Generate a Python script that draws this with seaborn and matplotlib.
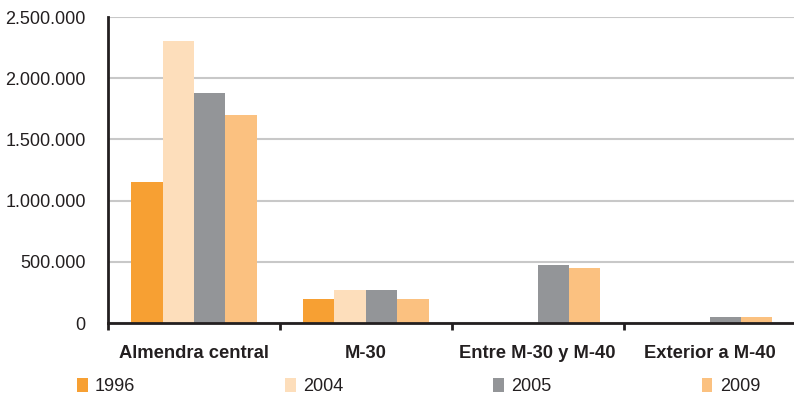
import numpy as np
import pandas as pd
import matplotlib
matplotlib.use("Agg")
import matplotlib.pyplot as plt
from matplotlib.patches import Patch
from matplotlib.ticker import FuncFormatter, FixedLocator
import seaborn as sns

# Data: vehicles by ring zone and year
zones = ["Almendra central", "M-30", "Entre M-30 y M-40", "Exterior a M-40"]
years = ["1996", "2004", "2005", "2009"]
v1996 = [1150000, 195000, np.nan, np.nan]
v2004 = [2305000, 270000, np.nan, np.nan]
v2005 = [1880000, 270000, 475000, 50000]
v2009 = [1700000, 195000, 450000, 50000]
colors = ["#F7A033", "#FDDEBB", "#939598", "#FBC180"]

rows = []
for year, vals in zip(years, [v1996, v2004, v2005, v2009]):
    for zone, v in zip(zones, vals):
        rows.append({"zona": zone, "año": year, "valor": v})
df = pd.DataFrame(rows)

sns.set_style("white")
plt.rcParams["font.family"] = ["Liberation Sans", "DejaVu Sans"]
text_color = "#231F20"

fig = plt.figure(figsize=(7.94, 3.98), dpi=100)
ax = fig.add_axes([0.136, 0.1884, 0.866, 0.7686])

sns.barplot(data=df, x="zona", y="valor", hue="año", order=zones,
            hue_order=years, palette=colors, width=0.73, errorbar=None,
            saturation=1, linewidth=0, ax=ax, legend=False)

ax.set_xlim(-0.5, 3.5)
ax.set_ylim(0, 2500000)
ax.set_yticks(np.arange(0, 2500001, 500000))
ax.yaxis.set_major_formatter(FuncFormatter(lambda v, p: f"{int(v):,}".replace(",", ".")))
ax.grid(axis="y", color="#C8C8C8", linewidth=1.5)
ax.set_axisbelow(True)
ax.set_xlabel("")
ax.set_ylabel("")

for s in ["top", "right"]:
    ax.spines[s].set_visible(False)
for s in ["left", "bottom"]:
    ax.spines[s].set_color("#231F20")
    ax.spines[s].set_linewidth(2)

# Category labels at bar group centres, tick marks at group boundaries
ax.set_xticks(range(len(zones)))
ax.set_xticklabels(zones, fontsize=13.2, fontweight="bold", color=text_color)
ax.tick_params(axis="x", which="major", length=0, pad=16)
ax.xaxis.set_minor_locator(FixedLocator([-0.5, 0.5, 1.5, 2.5, 3.5]))
ax.tick_params(axis="x", which="minor", length=5, width=2, color="#231F20",
               direction="out", bottom=True)
ax.tick_params(axis="y", length=5, width=2, color="#231F20", direction="out",
               labelsize=13, labelcolor=text_color, pad=11)

handles = [Patch(facecolor=c, edgecolor="none") for c in colors]
fig.legend(handles, years, loc="center left", bbox_to_anchor=(0.097, 0.028),
           ncol=4, frameon=False, fontsize=13, handlelength=0.6,
           handleheight=0.75, handletextpad=0.4, columnspacing=8.3,
           borderpad=0, borderaxespad=0, labelcolor=text_color)

fig.savefig("out.png", dpi=100, facecolor="white")
